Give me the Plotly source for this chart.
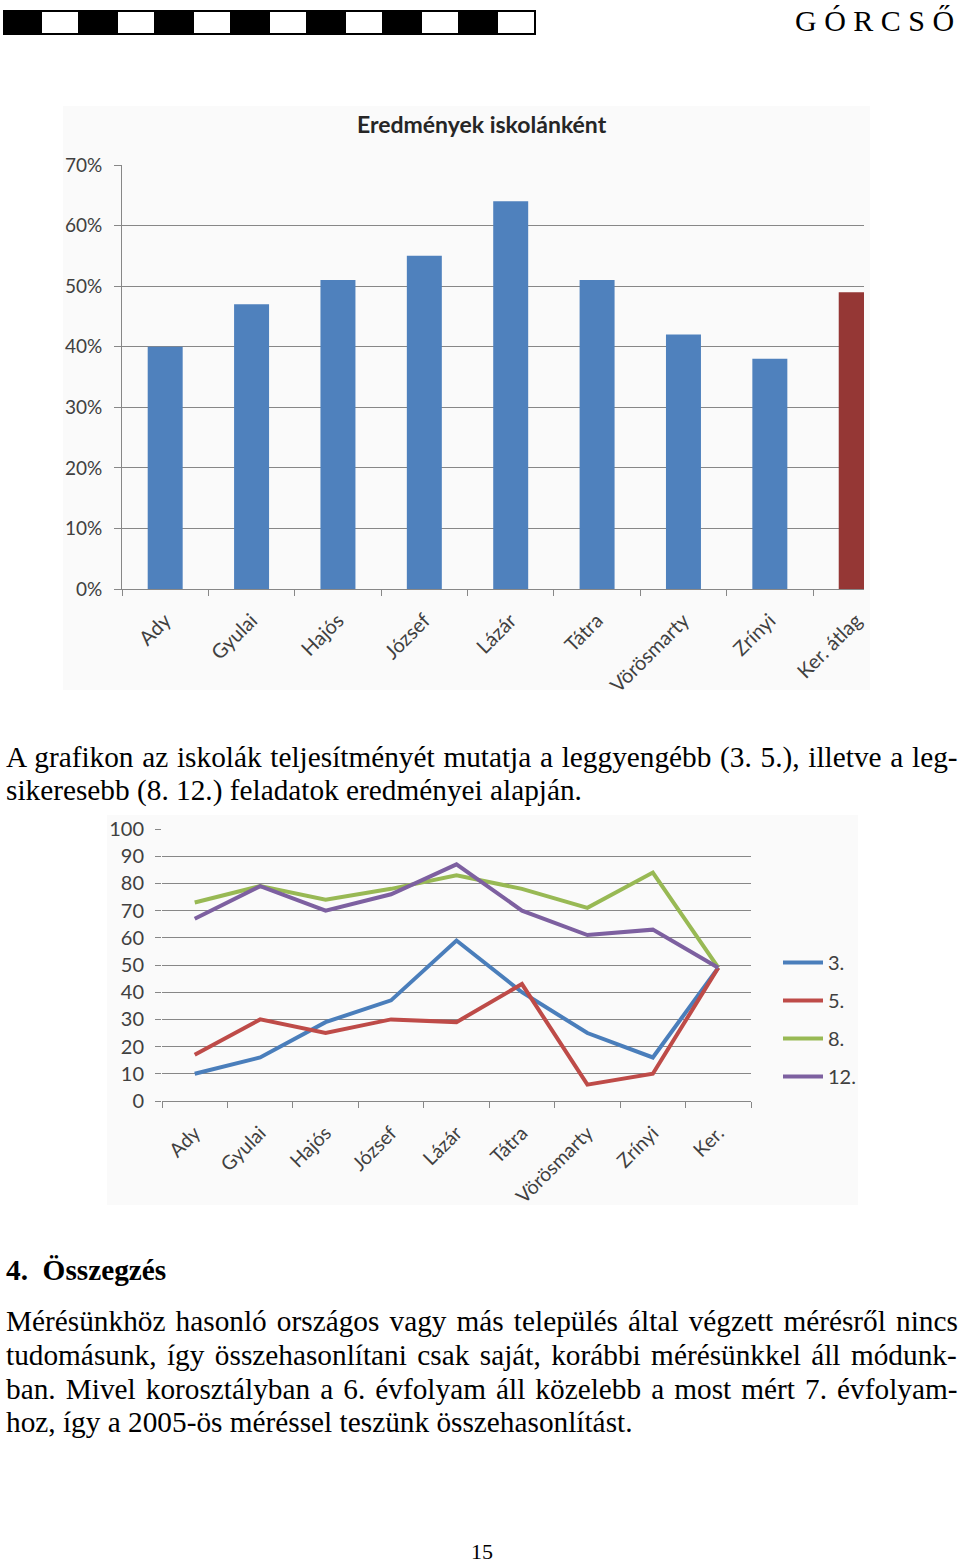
import plotly.graph_objects as go

W, H = 960, 1564

# ---------------- data ----------------
bar_schools = ["Ady", "Gyulai", "Hajós", "József", "Lázár", "Tátra", "Vörösmarty", "Zrínyi", "Ker. átlag"]
bar_values = [0.40, 0.47, 0.51, 0.55, 0.64, 0.51, 0.42, 0.38, 0.49]

line_schools = ["Ady", "Gyulai", "Hajós", "József", "Lázár", "Tátra", "Vörösmarty", "Zrínyi", "Ker."]
series_names = ["3.", "5.", "8.", "12."]
s3 = [10, 16, 29, 37, 59, 40, 25, 16, 49]
s5 = [17, 30, 25, 30, 29, 43, 6, 10, 49]
s8 = [73, 79, 74, 78, 83, 78, 71, 84, 49]
s12 = [67, 79, 70, 76, 87, 70, 61, 63, 49]

bar_yticks = [0, 0.1, 0.2, 0.3, 0.4, 0.5, 0.6, 0.7]
line_yticks = [0, 10, 20, 30, 40, 50, 60, 70, 80, 90, 100]


def px(x):
    return x / W


def py(y):
    return 1 - y / H


SANS = "Lato"
SERIF = "Liberation Serif"
GRID = "#878787"
TICKC = "#404040"

fig = go.Figure()

bar_colors = ["#4F81BD"] * (len(bar_values) - 1) + ["#953735"]
fig.add_trace(go.Bar(x=bar_schools, y=bar_values, marker=dict(color=bar_colors, line=dict(width=0)),
                     width=0.405, xaxis="x", yaxis="y", showlegend=False, hoverinfo="x+y"))

line_colors = ["#4A7EBB", "#BE4B48", "#98B954", "#7D60A0"]
for name, vals, col in zip(series_names, [s3, s5, s8, s12], line_colors):
    fig.add_trace(go.Scatter(x=line_schools, y=vals, mode="lines", name=name,
                             line=dict(color=col, width=4), xaxis="x2", yaxis="y2",
                             legendgroup=name))

fig.update_layout(
    template="none",
    width=W, height=H,
    margin=dict(l=0, r=0, t=0, b=0, pad=0, autoexpand=False),
    paper_bgcolor="white",
    plot_bgcolor="rgba(0,0,0,0)",
    showlegend=True,
    legend=dict(x=px(778), y=py(943), xanchor="left", yanchor="top",
                font=dict(family=SANS, size=20, color=TICKC), tracegroupgap=9,
                bgcolor="rgba(0,0,0,0)", itemwidth=40, borderwidth=0),
    xaxis=dict(domain=[px(122), px(864)], anchor="y", type="category", automargin=False,
               range=[-0.5, 8.09], tickson="boundaries", ticks="outside", ticklen=6,
               tickcolor=GRID, showline=True, linecolor=GRID, linewidth=1,
               tickangle=-45, tickfont=dict(family=SANS, size=20, color=TICKC),
               ticklabelstandoff=11, showgrid=False, zeroline=False),
    yaxis=dict(domain=[py(589), py(165)], anchor="x", range=[0, 0.7], automargin=False,
               tickvals=bar_yticks, tickformat=".0%", showgrid=True, gridcolor=GRID, gridwidth=1,
               ticks="outside", ticklen=7, tickcolor=GRID, showline=True, linecolor=GRID,
               ticklabelstandoff=8,
               zeroline=False, tickfont=dict(family=SANS, size=19, color=TICKC)),
    xaxis2=dict(domain=[px(162), px(751)], anchor="y2", type="category", automargin=False,
                range=[-0.5, 8.5], tickson="boundaries", ticks="outside", ticklen=6,
                tickcolor=GRID, showline=True, linecolor=GRID, linewidth=1,
                tickangle=-45, tickfont=dict(family=SANS, size=19.5, color=TICKC),
                ticklabelstandoff=12, showgrid=False, zeroline=False),
    yaxis2=dict(domain=[py(1101), py(829)], anchor="x2", range=[0, 100], automargin=False,
                tickvals=line_yticks, showgrid=True, gridcolor=GRID, gridwidth=1,
                ticks="outside", ticklen=6, tickcolor=GRID, showline=False,
                ticklabelstandoff=7,
                zeroline=False, tickfont=dict(family=SANS, size=20, color=TICKC)),
)

shapes = []
# chart backgrounds
shapes.append(dict(type="rect", xref="paper", yref="paper", x0=px(63), x1=px(870), y0=py(690), y1=py(106),
                   fillcolor="#fafafa", line=dict(width=0), layer="below"))
shapes.append(dict(type="rect", xref="paper", yref="paper", x0=px(107), x1=px(858), y0=py(1205), y1=py(815),
                   fillcolor="#fafafa", line=dict(width=0), layer="below"))
# header band
shapes.append(dict(type="rect", xref="paper", yref="paper", x0=px(3), x1=px(536), y0=py(35), y1=py(10),
                   fillcolor="black", line=dict(width=0)))
for i in range(7):
    x0 = 42 + i * 76
    shapes.append(dict(type="rect", xref="paper", yref="paper", x0=px(x0), x1=px(x0 + 36),
                       y0=py(33), y1=py(12), fillcolor="white", line=dict(width=0)))
fig.update_layout(shapes=shapes)

ann = []
ann.append(dict(text="<b>Eredmények iskolánként</b>", x=px(482), y=py(124), xref="paper", yref="paper",
                showarrow=False, font=dict(family=SANS, size=23, color="#262626"), xanchor="center", yanchor="middle"))
ann.append(dict(text="G Ó R C S Ő", x=px(956), y=py(21), xref="paper", yref="paper", showarrow=False,
                font=dict(family=SERIF, size=30, color="black"), xanchor="right", yanchor="middle"))

BODY = 29.3
# (text, y, extra word spacing in px for justified lines)
text_lines = [
    ("A grafikon az iskolák teljesítményét mutatja a leggyengébb (3. 5.), illetve a leg-", 757, 1.4),
    ("sikeresebb (8. 12.) feladatok eredményei alapján.", 791, 0),
    ("Mérésünkhöz hasonló országos vagy más település által végzett mérésről nincs", 1321, 2.8),
    ("tudomásunk, így összehasonlítani csak saját, korábbi mérésünkkel áll módunk-", 1355, 3.1),
    ("ban. Mivel korosztályban a 6. évfolyam áll közelebb a most mért 7. évfolyam-", 1389, 2.75),
    ("hoz, így a 2005-ös méréssel teszünk összehasonlítást.", 1422, 0),
]
for t, y, ws in text_lines:
    txt = t if ws == 0 else '<span style="word-spacing:%.2fpx">%s</span>' % (ws, t)
    ann.append(dict(text=txt, x=px(4), y=py(y), xref="paper", yref="paper", showarrow=False,
                    font=dict(family=SERIF, size=BODY, color="black"), xanchor="left", yanchor="middle"))
ann.append(dict(text="<b>4.  Összegzés</b>", x=px(4), y=py(1270), xref="paper", yref="paper", showarrow=False,
                font=dict(family=SERIF, size=BODY, color="black"), xanchor="left", yanchor="middle"))
ann.append(dict(text="15", x=px(482), y=py(1551), xref="paper", yref="paper", showarrow=False,
                font=dict(family=SERIF, size=22, color="black"), xanchor="center", yanchor="middle"))
fig.update_layout(annotations=ann)

fig.write_html("out.html", config={"displayModeBar": False},
               post_script="document.body.style.margin='0px';document.body.style.padding='0px';")
